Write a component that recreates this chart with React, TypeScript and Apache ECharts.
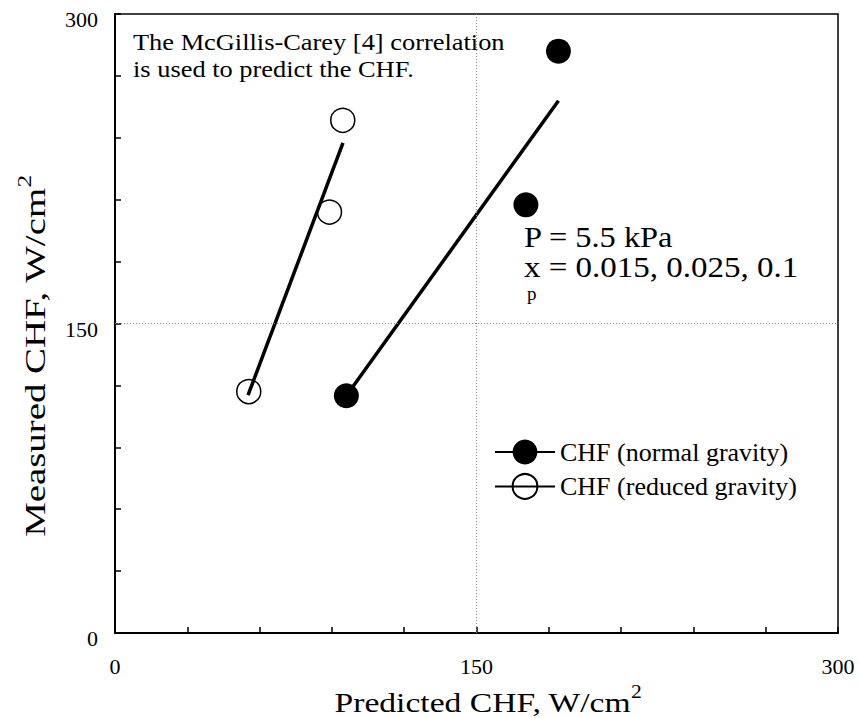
import React, { useEffect, useRef } from "react";
import * as echarts from "echarts";

// Measured vs. predicted critical heat flux (W/cm²)
const NORMAL_PREDICTED = [96, 170.5, 184];
const NORMAL_MEASURED = [115, 207.5, 282];
const REDUCED_PREDICTED = [55.5, 89, 94.5];
const REDUCED_MEASURED = [117, 204, 248.5];

// Least-squares fit lines through each group (end points)
const NORMAL_FIT_X = [96, 184];
const NORMAL_FIT_Y = [115, 258];
const REDUCED_FIT_X = [55.2, 94.6];
const REDUCED_FIT_Y = [115.3, 237.5];

const AXIS_MIN = 0;
const AXIS_MAX = 300;
const TICK_STEP = 30;
const LABEL_STEP = 150;
const GRID_LINES = [150];

const SERIES_NAMES = ["CHF (normal gravity)", "CHF (reduced gravity)"];

const FONT = "Liberation Serif, Times New Roman, DejaVu Serif, serif";

const zip = (xs: number[], ys: number[]) => xs.map((x, i) => [x, ys[i]]);

// rich-text style token in the serif face
const tok = (size: number, extra: object = {}) => ({
  fontFamily: FONT,
  fontSize: size,
  color: "#000",
  fill: "#000",
  ...extra,
});

export default function App() {
  const ref = useRef<HTMLDivElement>(null);

  useEffect(() => {
    if (!ref.current) return;
    const chart = echarts.init(ref.current, undefined, { renderer: "svg" });

    const labelFmt = (v: number) => (v % LABEL_STEP === 0 ? `{t|${v}}` : "");

    const axisCommon = {
      type: "value" as const,
      min: AXIS_MIN,
      max: AXIS_MAX,
      interval: TICK_STEP,
      splitLine: { show: false },
      axisLine: { show: true, lineStyle: { color: "#000", width: 2 } },
      axisTick: { show: true, inside: true, length: 6, lineStyle: { color: "#000", width: 1.5 } },
    };

    chart.setOption({
      animation: false,
      backgroundColor: "#fff",
      textStyle: { fontFamily: FONT },
      grid: {
        left: 115,
        top: 14,
        right: 21,
        bottom: 85,
        show: true,
        borderColor: "#000",
        borderWidth: 1.5,
        backgroundColor: "transparent",
      },
      xAxis: {
        ...axisCommon,
        axisLabel: {
          formatter: labelFmt,
          fontFamily: FONT,
          fontSize: 22,
          color: "#000",
          margin: 22,
          rich: { t: tok(22) },
        },
      },
      yAxis: {
        ...axisCommon,
        axisLabel: {
          formatter: labelFmt,
          fontFamily: FONT,
          fontSize: 22,
          color: "#000",
          margin: 17,
          padding: [11, 0, 0, 0],
          rich: { t: tok(22) },
        },
      },
      legend: {
        data: SERIES_NAMES,
        orient: "vertical",
        left: 494,
        top: 439,
        padding: 0,
        itemWidth: 60,
        itemHeight: 31,
        itemGap: 8,
        textStyle: { fontFamily: FONT, fontSize: 26, color: "#000" },
        lineStyle: { color: "#000", width: 2, opacity: 1 },
        selectedMode: false,
      },
      series: [
        {
          name: SERIES_NAMES[0],
          type: "line",
          data: zip(NORMAL_PREDICTED, NORMAL_MEASURED),
          symbol: "circle",
          symbolSize: 25,
          showAllSymbol: true,
          itemStyle: { color: "#000" },
          lineStyle: { width: 0, opacity: 0 },
          z: 3,
        },
        {
          name: SERIES_NAMES[1],
          type: "line",
          data: zip(REDUCED_PREDICTED, REDUCED_MEASURED),
          symbol: "circle",
          symbolSize: 24,
          showAllSymbol: true,
          itemStyle: { color: "rgba(255,255,255,0)", borderColor: "#000", borderWidth: 1.5 },
          lineStyle: { width: 0, opacity: 0 },
          z: 3,
        },
        {
          name: "fit-normal",
          type: "line",
          data: zip(NORMAL_FIT_X, NORMAL_FIT_Y),
          symbol: "none",
          lineStyle: { color: "#000", width: 3.5 },
          z: 4,
          markLine: {
            silent: true,
            symbol: "none",
            label: { show: false },
            lineStyle: { color: "#888", width: 1, type: [1, 2] },
            data: [
              ...GRID_LINES.map((v) => ({ xAxis: v })),
              ...GRID_LINES.map((v) => ({ yAxis: v })),
            ],
          },
        },
        {
          name: "fit-reduced",
          type: "line",
          data: zip(REDUCED_FIT_X, REDUCED_FIT_Y),
          symbol: "none",
          lineStyle: { color: "#000", width: 3.5 },
          z: 4,
        },
      ],
      graphic: [
        {
          type: "text",
          x: 133,
          y: 28,
          scaleX: 1.1,
          style: {
            text: "{a|The McGillis-Carey [4] correlation}\n{a|is used to predict the CHF.}",
            align: "left",
            verticalAlign: "top",
            rich: { a: tok(24, { lineHeight: 27 }) },
          },
        },
        {
          type: "text",
          x: 524,
          y: 237,
          scaleX: 1.08,
          style: {
            text: "{a|P = 5.5 kPa}",
            align: "left",
            verticalAlign: "middle",
            rich: { a: tok(30) },
          },
        },
        {
          type: "text",
          x: 524,
          y: 267,
          scaleX: 1.1,
          style: {
            text: "{a|x = 0.015, 0.025, 0.1}",
            align: "left",
            verticalAlign: "middle",
            rich: { a: tok(30) },
          },
        },
        {
          type: "text",
          x: 527,
          y: 293,
          style: {
            text: "{a|p}",
            align: "left",
            verticalAlign: "middle",
            rich: { a: tok(19) },
          },
        },
        {
          type: "text",
          x: 488,
          y: 702,
          scaleX: 1.2,
          style: {
            text: "{b|Predicted CHF, W/cm}{s|2}",
            align: "center",
            verticalAlign: "middle",
            rich: {
              b: tok(28),
              s: tok(18, { padding: [0, 0, 20, 0] }),
            },
          },
        },
        {
          type: "text",
          x: 35,
          y: 356,
          rotation: Math.PI / 2,
          scaleX: 1.34,
          style: {
            text: "{b|Measured CHF, W/cm}{s|2}",
            align: "center",
            verticalAlign: "middle",
            rich: {
              b: tok(29),
              s: tok(19, { padding: [0, 0, 20, 0] }),
            },
          },
        },
      ],
    });

    return () => chart.dispose();
  }, []);

  return (
    <div
      ref={ref}
      style={{ position: "fixed", left: 0, top: 0, width: 859, height: 718 }}
    />
  );
}
